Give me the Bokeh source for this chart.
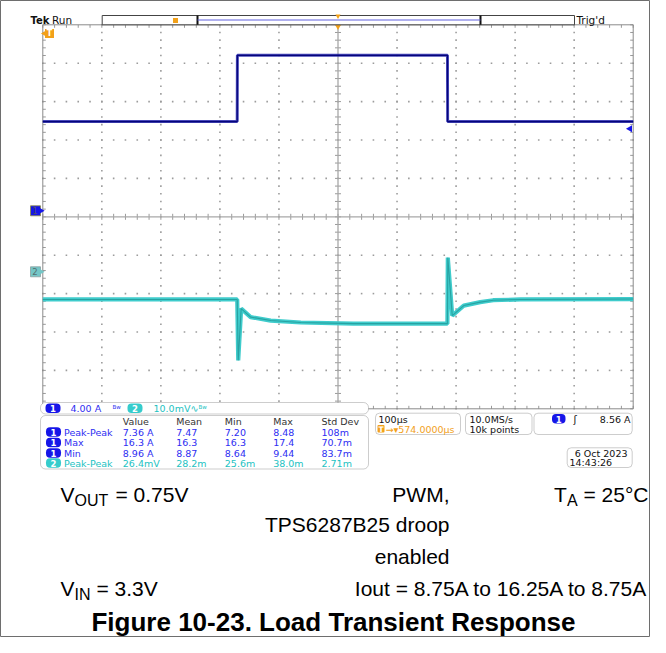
import numpy as np
from bokeh.plotting import figure
from bokeh.models import Range1d, BoxAnnotation, Label
from bokeh.embed import file_html
from bokeh.resources import INLINE

# ------------------------------------------------------------------ data
# scope settings
TIME_DIV_US = 100.0          # 100 us/div
H_POS_US = 574.0             # trigger -> screen centre
CH1_SCALE_A = 4.0            # 4.00 A/div
CH2_SCALE_MV = 10.0          # 10.0 mV/div
CH1_POS_DIV = 0.156          # channel 1 ground marker (div)
CH2_POS_DIV = -1.432         # channel 2 ground marker (div)
TRIG_LEVEL_A = 8.56

# channel 1: load current (A), time after trigger (us)
CH1_TIME_US = [74, 403.3, 403.6, 759.4, 759.7, 1074]
CH1_AMPS = [9.3, 9.3, 16.2, 16.2, 9.3, 9.3]

# channel 2: output voltage, AC (mV)
CH2_TIME_US = [74, 403.3, 405, 410, 426, 460, 511, 600, 759.3, 760,
               767.5, 787, 815, 837, 883, 1074]
CH2_MV = [-7.2, -7.2, -23.1, -9.6, -11.8, -12.7, -13.2, -13.5, -13.5, 3.7,
          -11.4, -8.8, -7.9, -7.4, -7.2, -7.1]

# measurement table
MEAS_HEADERS = ["Value", "Mean", "Min", "Max", "Std Dev"]
MEAS_CHANNEL = [1, 1, 1, 2]
MEAS_NAME = ["Peak-Peak", "Max", "Min", "Peak-Peak"]
MEAS_VALUE = ["7.36 A", "16.3 A", "8.96 A", "26.4mV"]
MEAS_MEAN = ["7.47", "16.3", "8.87", "28.2m"]
MEAS_MIN = ["7.20", "16.3", "8.64", "25.6m"]
MEAS_MAX = ["8.48", "17.4", "9.44", "38.0m"]
MEAS_STD = ["108m", "70.7m", "83.7m", "2.71m"]

# ------------------------------------------------------------------ layout helpers
GX0, GXD = 42.3, 59.04      # graticule left (px), px per horizontal div
GY0, GYD = 216.3, 38.4      # graticule centre (px), px per vertical div
W, H = 650, 637


def X(px):
    return (px - GX0) / GXD


def Y(py):
    return (GY0 - py) / GYD


T_LEFT = H_POS_US - 5 * TIME_DIV_US

p = figure(width=W, height=H,
           x_range=Range1d(X(0), X(W)),
           y_range=Range1d(Y(H), Y(0)),
           x_axis_location=None, y_axis_location=None,
           output_backend="svg", toolbar_location=None, min_border=0)
p.grid.visible = False
p.outline_line_color = "#6e6e6e"
p.background_fill_color = "white"
p.border_fill_color = "white"

xr0, xr1 = p.x_range.start, p.x_range.end
yr0, yr1 = p.y_range.start, p.y_range.end
p.extra_x_ranges = {"time": Range1d(T_LEFT + xr0 * TIME_DIV_US, T_LEFT + xr1 * TIME_DIV_US)}
p.extra_y_ranges = {
    "ch1": Range1d((yr0 - CH1_POS_DIV) * CH1_SCALE_A, (yr1 - CH1_POS_DIV) * CH1_SCALE_A),
    "ch2": Range1d((yr0 - CH2_POS_DIV) * CH2_SCALE_MV, (yr1 - CH2_POS_DIV) * CH2_SCALE_MV),
}

SCOPE_FONT = "DejaVu Sans"
CAP_FONT = "Liberation Sans"
BLUE_TXT = "#2d2df2"
BLUE_PILL = "#1616e8"
CYAN_TXT = "#22c2c2"
CYAN_PILL = "#36cccc"
ORANGE = "#f2a11a"


def label(px, py, text, size="9.5px", color="#222222", font=SCOPE_FONT,
          align="left", baseline="middle", style="normal"):
    p.add_layout(Label(x=X(px), y=Y(py), text=text, text_font=font,
                       text_font_size=size, text_color=color, text_align=align,
                       text_baseline=baseline, text_font_style=style))


def box(l, r, t, b, line="#5a5a5a", fill="white", radius=4, lw=1):
    p.add_layout(BoxAnnotation(left=X(l), right=X(r), top=Y(t), bottom=Y(b),
                               fill_color=fill, fill_alpha=1, line_color=line,
                               line_width=lw, border_radius=radius))


def pill(l, r, cy, fill, text, h=9.5):
    box(l, r, cy - h / 2, cy + h / 2, line=None, fill=fill, radius=int(h / 2))
    label((l + r) / 2, cy + 0.3, text, size="8.5px", color="white", align="center",
          style="bold")


# ------------------------------------------------------------------ graticule
minor_x = np.round(np.arange(0, 10.0001, 0.2), 3)
minor_y = np.round(np.arange(-5, 5.0001, 0.2), 3)
vlines = [1, 2, 3, 4, 6, 7, 8, 9]
hlines = [-4, -3, -2, -1, 1, 2, 3, 4]
dot_x = np.concatenate([np.repeat(vlines, len(minor_y)), np.tile(minor_x, len(hlines))])
dot_y = np.concatenate([np.tile(minor_y, len(vlines)), np.repeat(hlines, len(minor_x))])
p.scatter(dot_x, dot_y, marker="square", size=1.6, fill_color="#9c9c9c",
          line_color=None)

tx, ty = 3 / GXD, 3 / GYD
seg_x0 = np.concatenate([minor_x, minor_x, minor_x, np.full(len(minor_y), 0.0),
                         np.full(len(minor_y), 10.0), np.full(len(minor_y), 5 - tx)])
seg_x1 = np.concatenate([minor_x, minor_x, minor_x, np.full(len(minor_y), tx),
                         np.full(len(minor_y), 10 - tx), np.full(len(minor_y), 5 + tx)])
seg_y0 = np.concatenate([np.full(len(minor_x), -ty), np.full(len(minor_x), 5.0),
                         np.full(len(minor_x), -5.0), minor_y, minor_y, minor_y])
seg_y1 = np.concatenate([np.full(len(minor_x), ty), np.full(len(minor_x), 5 - ty),
                         np.full(len(minor_x), -5 + ty), minor_y, minor_y, minor_y])
p.segment(seg_x0, seg_y0, seg_x1, seg_y1, line_color="#9a9a9a", line_width=1)
p.segment([0, 5], [0, -5], [10, 5], [0, 5], line_color="#a8a8a8", line_width=1.3)
p.quad(left=[0], right=[10], top=[5], bottom=[-5], fill_color=None,
       line_color="#8a8a8a", line_width=1)

# ------------------------------------------------------------------ traces
p.line(CH2_TIME_US, CH2_MV, x_range_name="time", y_range_name="ch2",
       line_color="#3fcccc", line_width=4.2)
p.line(CH2_TIME_US, CH2_MV, x_range_name="time", y_range_name="ch2",
       line_color="#1b8c8c", line_width=1.1, line_alpha=0.65)
p.line(CH1_TIME_US, CH1_AMPS, x_range_name="time", y_range_name="ch1",
       line_color="#2727ad", line_width=3, line_alpha=0.85)
p.line(CH1_TIME_US, CH1_AMPS, x_range_name="time", y_range_name="ch1",
       line_color="#05057a", line_width=1.2)

# channel ground markers (left) and trigger level marker (right)
p.scatter([X(35)], [0], y_range_name="ch1", marker="square",
          size=10, fill_color=BLUE_PILL, line_color="#8c8c40", line_width=0.8)
p.scatter([X(39.5)], [0], y_range_name="ch1", marker="triangle", angle=-np.pi / 2,
          size=8, fill_color=BLUE_PILL, line_color=None)
p.add_layout(Label(x=X(34.5), y=0, y_range_name="ch1", text="1", text_font=SCOPE_FONT,
                   text_font_size="8.5px", text_color="#50506a", text_align="center",
                   text_baseline="middle"))
p.scatter([X(35)], [0], y_range_name="ch2", marker="square",
          size=10, fill_color="#74c6c6", line_color="#8aa0a0", line_width=0.8)
p.scatter([X(39.5)], [0], y_range_name="ch2", marker="triangle", angle=-np.pi / 2,
          size=8, fill_color="#74c6c6", line_color=None)
p.add_layout(Label(x=X(34.5), y=0, y_range_name="ch2", text="2", text_font=SCOPE_FONT,
                   text_font_size="8.5px", text_color="#557070", text_align="center",
                   text_baseline="middle"))
p.scatter([X(629.5)], [TRIG_LEVEL_A], y_range_name="ch1", marker="triangle",
          angle=np.pi / 2, size=7, fill_color=BLUE_PILL, line_color=None)

# trigger-position indicator (off screen to the left)
p.scatter([X(49)], [Y(33)], marker="square", size=9, fill_color=ORANGE, line_color=None)
p.scatter([X(44.5)], [Y(33)], marker="triangle", angle=np.pi / 2, size=7,
          fill_color=ORANGE, line_color=None)
label(49, 33.3, "T", size="8px", color="white", align="center", style="bold")
# expansion point marker
p.scatter([X(337.5)], [Y(26)], marker="inverted_triangle", size=6, fill_color=ORANGE,
          line_color=None)

# ------------------------------------------------------------------ top bar
p.quad(left=[X(101.7)], right=[X(574)], top=[Y(15)], bottom=[Y(24.3)],
       fill_color="white", line_color="#444444", line_width=1)
p.segment([X(197), X(480)], [Y(15)] * 2, [X(197), X(480)], [Y(24.3)] * 2,
          line_color="#111111", line_width=2)
p.segment([X(197)], [Y(19.5)], [X(480)], [Y(19.5)], line_color="#6262e0", line_width=1.2)
p.scatter([X(175)], [Y(20)], marker="square", size=5, fill_color=ORANGE, line_color=None)
p.scatter([X(337.5)], [Y(15.5)], marker="inverted_triangle", size=5,
          fill_color=ORANGE, line_color=None)
label(30, 19.5, "Tek", size="10px", color="#111111", style="bold")
label(51.5, 19.5, "Run", size="10.5px", color="#111111")
label(576, 19.5, "Trig'd", size="10.5px", color="#111111")

# ------------------------------------------------------------------ channel readout
box(40, 368, 402, 413.5, radius=5)
pill(45, 60, 407.8, BLUE_PILL, "1")
label(70, 408, f"{CH1_SCALE_A:.2f} A", color=BLUE_TXT)
label(112, 406.5, "Bw", size="5.5px", color=BLUE_TXT)
pill(127, 142, 407.8, CYAN_PILL, "2")
label(153, 408, f"{CH2_SCALE_MV:.1f}mV\u223f", color=CYAN_TXT)
label(198, 406.5, "Bw", size="5.5px", color=CYAN_TXT)

# ------------------------------------------------------------------ measurement table
box(40, 368, 415, 468.5, radius=5)
COL_X = [122.3, 175.7, 224.3, 272.7, 321]
for cx, hdr in zip(COL_X, MEAS_HEADERS):
    label(cx, 420.8, hdr, color="#333333")
ROW_Y = [431.7, 442.2, 452.6, 462.8]
for i, ry in enumerate(ROW_Y):
    ch = MEAS_CHANNEL[i]
    col = BLUE_TXT if ch == 1 else CYAN_TXT
    pill(45.5, 60.5, ry - 0.2, BLUE_PILL if ch == 1 else CYAN_PILL, str(ch))
    label(63.5, ry, MEAS_NAME[i], color=col)
    vals = [MEAS_VALUE[i], MEAS_MEAN[i], MEAS_MIN[i], MEAS_MAX[i], MEAS_STD[i]]
    for cx, v in zip(COL_X, vals):
        label(cx, ry, v, color=col)

# ------------------------------------------------------------------ right readouts
box(375, 460, 412.7, 434, radius=4)
label(378, 418.5, f"{TIME_DIV_US:.0f}\u00b5s", color="#111111")
box(377, 384, 424.5, 432, line=None, fill=ORANGE, radius=1)
label(380.5, 428.5, "T", size="7.5px", color="white", align="center", style="bold")
label(385, 428.5, f"\u2192\u25be{H_POS_US:.4f}\u00b5s", color=ORANGE)

box(465, 531.5, 412.7, 434, radius=4)
label(469, 418.5, "10.0MS/s", color="#111111")
label(469, 428.5, "10k points", color="#111111")

box(533.5, 631.7, 412.7, 434, radius=4)
pill(551.5, 565, 418.3, BLUE_PILL, "1")
label(573, 418.5, "\u0283", size="10px", color="#111111")
label(630, 418.5, f"{TRIG_LEVEL_A:.2f} A", color="#111111", align="right")

box(566.7, 631.7, 447.3, 467, radius=4)
label(630, 452.8, "6 Oct  2023", color="#111111", align="right")
label(569, 462.2, "14:43:26", color="#111111")

# ------------------------------------------------------------------ caption
CS, SS = "21px", "16px"
R1, R2, R3, R4, RT = 494, 524, 556, 588, 621   # visual centres of the caption rows
SUB = 6
label(60, R1, "V", size=CS, font=CAP_FONT, color="black")
label(74, R1 + SUB, "OUT", size=SS, font=CAP_FONT, color="black")
label(115, R1, "= 0.75V", size=CS, font=CAP_FONT, color="black")
label(449, R1, "PWM,", size=CS, font=CAP_FONT, color="black", align="right")
label(553.5, R1, "T", size=CS, font=CAP_FONT, color="black")
label(566.5, R1 + SUB, "A", size=SS, font=CAP_FONT, color="black")
label(583, R1, "= 25\u00b0C", size=CS, font=CAP_FONT, color="black")
label(449, R2, "TPS6287B25 droop", size=CS, font=CAP_FONT, color="black",
      align="right")
label(449, R3, "enabled", size=CS, font=CAP_FONT, color="black", align="right")
label(60, R4, "V", size=CS, font=CAP_FONT, color="black")
label(74, R4 + SUB, "IN", size=SS, font=CAP_FONT, color="black")
label(96, R4, "= 3.3V", size=CS, font=CAP_FONT, color="black")
label(648, R4, "Iout = 8.75A to 16.25A to 8.75A", size=CS, font=CAP_FONT,
      color="black", align="right")
label(333, RT, "Figure 10-23. Load Transient Response", size="26px", font=CAP_FONT,
      color="black", align="center", style="bold")

open("out.html", "w").write(file_html(p, INLINE))
